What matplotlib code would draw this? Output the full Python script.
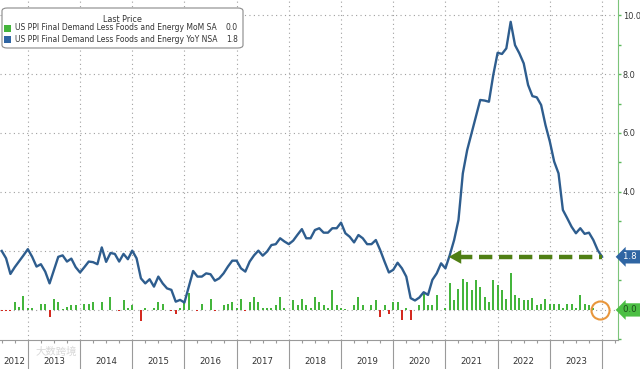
import numpy as np
import matplotlib
matplotlib.use("Agg")
import matplotlib.pyplot as plt
from matplotlib.patches import FancyBboxPatch, Rectangle
from matplotlib.transforms import blended_transform_factory

# monthly data, Jun 2012 .. Dec 2023 (plotted at month end)
start_year, start_month = 2012, 6
yoy = [2.0, 1.75, 1.22, 1.45, 1.65, 1.85, 2.06,
       1.8, 1.47, 1.55, 1.3, 0.9, 1.35, 1.8, 1.85, 1.64, 1.74, 1.45, 1.27,
       1.45, 1.64, 1.62, 1.55, 2.12, 1.63, 1.93, 1.9, 1.64, 1.9, 1.72, 2.01,
       1.75, 1.07, 0.9, 1.04, 0.79, 1.13, 0.9, 0.73, 0.68, 0.28, 0.34, 0.25,
       0.79, 1.32, 1.13, 1.13, 1.24, 1.21, 0.99, 1.07, 1.24, 1.47, 1.67, 1.67,
       1.41, 1.3, 1.64, 1.85, 2.01, 1.84, 1.98, 2.2, 2.23, 2.43, 2.32, 2.23,
       2.35, 2.55, 2.74, 2.43, 2.43, 2.71, 2.77, 2.62, 2.62, 2.77, 2.77, 2.96,
       2.6, 2.48, 2.29, 2.54, 2.43, 2.23, 2.23, 2.37, 2.03, 1.64, 1.27, 1.36,
       1.6, 1.41, 1.13, 0.4, 0.32, 0.42, 0.6, 0.51, 1.02, 1.24, 1.58, 1.41,
       1.86, 2.37, 3.05, 4.63, 5.42, 5.99, 6.55, 7.12, 7.1, 7.06, 7.97, 8.72,
       8.68, 8.87, 9.77, 8.98, 8.7, 8.36, 7.63, 7.25, 7.21, 6.95, 6.27, 5.71,
       5.03, 4.63, 3.39, 3.11, 2.82, 2.6, 2.77, 2.58, 2.62, 2.37, 2.03, 1.8]
mom = [-0.05, -0.05, -0.05, 0.28, 0.11, 0.47, 0.07,
       0.05, 0.0, 0.2, 0.2, -0.25, 0.38, 0.27, 0.03, 0.09, 0.18, 0.18, 0.0,
       0.2, 0.2, 0.27, 0.0, 0.27, 0.0, 0.45, 0.0, -0.05, 0.35, 0.07, 0.15,
       0.0, -0.36, 0.05, 0.0, 0.07, 0.27, 0.2, 0.0, -0.05, -0.14, 0.07, 0.27,
       0.56, 0.0, -0.05, 0.2, 0.0, 0.36, -0.05, 0.0, 0.15, 0.2, 0.27, 0.07,
       0.36, -0.05, 0.27, 0.45, 0.27, 0.07, 0.07, 0.07, 0.15, 0.45, 0.07, 0.0,
       0.35, 0.15, 0.36, 0.15, 0.07, 0.43, 0.27, 0.15, 0.07, 0.69, 0.15, 0.07,
       0.03, 0.0, 0.15, 0.43, 0.15, 0.0, 0.15, 0.34, -0.25, 0.15, -0.14, 0.26,
       0.26, -0.34, 0.07, -0.34, 0.0, 0.15, 0.54, 0.18, 0.18, 0.49, 0.0, 0.05,
       0.92, 0.32, 0.71, 1.05, 0.94, 0.66, 1.03, 0.77, 0.43, 0.26, 1.03, 0.86,
       0.66, 0.36, 1.24, 0.49, 0.41, 0.35, 0.35, 0.41, 0.18, 0.2, 0.37, 0.2,
       0.2, 0.2, 0.05, 0.2, 0.2, 0.07, 0.52, 0.2, 0.15, 0.07, 0.0, 0.0]
years = list(range(2012, 2024))
right_ticks = [4, 6, 8, 10]
legend_names = ["US PPI Final Demand Less Foods and Energy MoM SA",
                "US PPI Final Demand Less Foods and Energy YoY NSA"]

BLUE = "#2e5d8e"; GREEN = "#44b53c"; RED = "#d42a20"; ARROW = "#4f7f14"
GRID = "#a0a0a0"

yoy = np.array(yoy); mom = np.array(mom)
t = start_year + (start_month - 1) / 12 + (np.arange(len(yoy)) + 1) / 12

fig = plt.figure(figsize=(6.4, 3.69), dpi=100)
ax = fig.add_axes([0, 1 - 340 / 369, 618 / 640, 340 / 369])
x0, x1 = 2012.467, 2024.306
ax.set_xlim(x0, x1)
ax.set_ylim(-1.02, 10.51)

# grid
for v in range(0, 11, 2):
    ax.axhline(v, color=GRID, ls=(0, (1, 3)), lw=0.8, zorder=0)
for yr in range(2013, 2025):
    ax.axvline(yr, color=GRID, ls=(0, (1, 3)), lw=0.8, zorder=0)

# bars
cols = [GREEN if v >= 0 else RED for v in mom]
ax.bar(t, mom, width=0.038, color=cols, zorder=2)
ax.plot(t, yoy, color=BLUE, lw=1.7, zorder=3, solid_joinstyle="round")

# dashed arrow back to where yoy last crossed the current level
last = yoy[-1]
idx = np.where((t > 2020.5) & (yoy >= last))[0][0]
ax.plot([t[idx] + 0.17, t[-1]], [last, last], color=ARROW, lw=3.2,
        ls=(0, (3, 1.5)), zorder=4, solid_capstyle="butt")
ax.annotate("", xy=(t[idx] - 0.02, last), xytext=(t[idx] + 0.22, last),
            arrowprops=dict(arrowstyle="-|>,head_length=0.9,head_width=0.5",
                            color=ARROW, lw=0, shrinkA=0, shrinkB=0), zorder=4)
# orange circle on last MoM
ax.plot([t[-1] - 0.04], [mom[-1]], "o", ms=13, mfc="none", mec="#e8963c",
        mew=1.5, zorder=5, clip_on=False)

# axes styling
for s in ("left", "top"):
    ax.spines[s].set_visible(False)
ax.spines["right"].set_color("#7cc47a")
ax.spines["bottom"].set_color("#9a9a9a")
ax.yaxis.tick_right()
ax.set_yticks(right_ticks)
ax.set_yticklabels([f"{v:.1f}" for v in right_ticks])
ax.set_yticks([-1, 1, 3, 5, 7, 9], minor=True)
ax.tick_params(axis="y", which="both", colors="#5cb85c", labelcolor="#333333",
               labelsize=5.9, length=2.5, width=1, pad=0.8)
ax.set_xticks(range(2013, 2025))
ax.set_xticklabels([])
ax.set_xticks(np.arange(2012.5, 2024.3, 0.25), minor=True)
ax.tick_params(axis="x", which="major", length=22, color="#9a9a9a", width=0.8)
ax.tick_params(axis="x", which="minor", length=2.5, color="#9a9a9a", width=0.8)

tr = blended_transform_factory(ax.transData, fig.transFigure)
for yr in years:
    lo = max(yr, x0)
    ax.text((lo + yr + 1) / 2, 1 - 362 / 369, str(yr), transform=tr,
            ha="center", va="center", fontsize=6.2, color="#333333")

# value tags on the right axis
ty = blended_transform_factory(ax.transAxes, ax.transData)
ax.text(1.008, last, f"{last:.1f} ", transform=ty, ha="left", va="center",
        fontsize=6.2, color="white", zorder=6,
        bbox=dict(boxstyle="larrow,pad=0.25", fc="#2f65a3", ec="none"))
ax.text(1.008, mom[-1], f"{mom[-1]:.1f} ", transform=ty, ha="left", va="center",
        fontsize=6.2, color="#1d4d1b", zorder=6,
        bbox=dict(boxstyle="larrow,pad=0.25", fc="#4cbf44", ec="none"))

# legend box
box = FancyBboxPatch((2 / 640, 1 - 48 / 369), 241 / 640, 40 / 369,
                     boxstyle="round,pad=0,rounding_size=0.008",
                     transform=fig.transFigure, fc="white", ec="#8a8a8a", lw=0.8,
                     zorder=10)
fig.patches.append(box)
fig.text(122 / 640, 1 - 19 / 369, "Last Price", ha="center", va="center",
         fontsize=5.8, color="#333333", zorder=11)
for i, (name, col, val) in enumerate(zip(legend_names, [GREEN, "#2f65a3"],
                                         [mom[-1], last])):
    yy = 1 - (28 + 11 * i) / 369
    fig.patches.append(Rectangle((4 / 640, yy - 3.5 / 369), 7 / 640, 7 / 369,
                                 transform=fig.transFigure, fc=col, ec="none",
                                 zorder=11))
    fig.text(15 / 640, yy, name, ha="left", va="center", fontsize=5.5,
             color="#333333", zorder=11)
    fig.text(238 / 640, yy, f"{val:.1f}", ha="right", va="center", fontsize=5.5,
             color="#333333", zorder=11)

# faint watermark
fig.text(36 / 640, 1 - 352 / 369, "大数跨境", fontsize=7.5, color="#d8d8d8",
         family=["Noto Sans CJK SC", "DejaVu Sans"], ha="left", va="center")

fig.savefig("out.png", dpi=100)
